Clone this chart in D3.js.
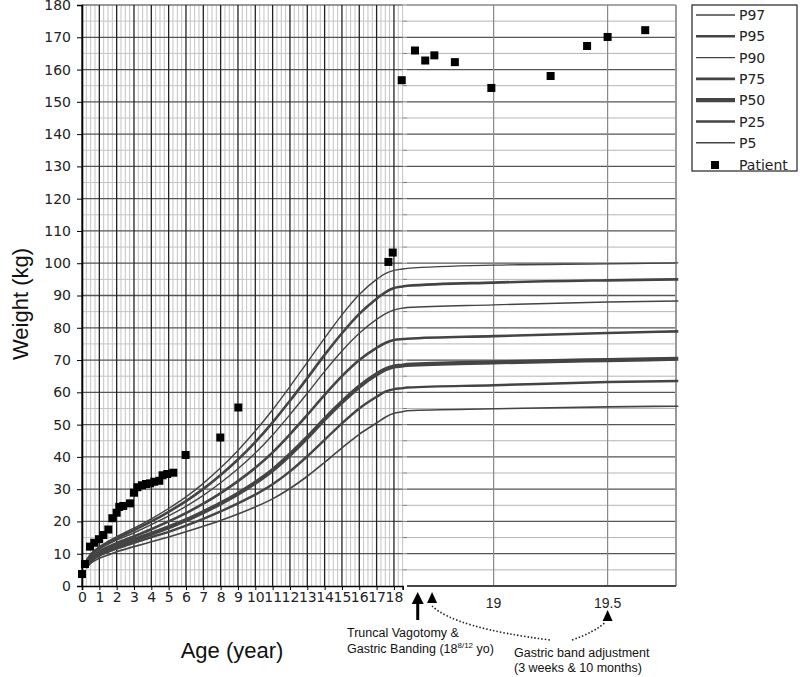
<!DOCTYPE html>
<html><head><meta charset="utf-8">
<script src="https://cdn.jsdelivr.net/npm/d3@7"></script>
<style>body{margin:0;background:#fff}svg{display:block}</style>
</head><body>
<svg id="c" width="800" height="677"></svg>
<script>
// ---- data ----
const curveAges = [0.25, 0.5, 1, 1.5, 2, 3, 4, 5, 6, 7, 8, 9, 10, 11, 12, 13, 14, 15, 16, 17, 17.5, 18, 18.5, 18.62, 19, 19.5, 19.81];
const P5  = [5.5, 7.0, 8.6, 9.6, 10.6, 12.2, 13.7, 15.2, 16.8, 18.5, 20.3, 22.3, 24.5, 27.0, 30.2, 34.0, 38.3, 42.8, 47.0, 50.5, 52.3, 53.5, 54.0, 54.3, 54.9, 55.5, 55.7];
const P25 = [6.0, 7.6, 9.4, 10.6, 11.6, 13.4, 15.1, 16.8, 18.7, 20.8, 23.1, 25.6, 28.3, 31.5, 35.5, 40.2, 45.3, 50.4, 55.0, 58.6, 60.2, 61.0, 61.3, 61.5, 62.2, 63.2, 63.5];
const P50 = [6.4, 8.0, 10.0, 11.3, 12.4, 14.3, 16.2, 18.2, 20.4, 22.9, 25.6, 28.6, 32.0, 35.9, 40.7, 46.0, 51.7, 57.0, 61.8, 65.6, 67.1, 68.0, 68.3, 68.5, 69.3, 70.0, 70.4];
const P75 = [6.9, 8.6, 10.7, 12.1, 13.3, 15.4, 17.6, 20.0, 22.6, 25.5, 28.8, 32.5, 36.6, 41.4, 47.0, 53.0, 59.2, 65.0, 70.0, 73.8, 75.3, 76.2, 76.5, 76.6, 77.4, 78.4, 78.9];
const P90 = [7.4, 9.2, 11.4, 12.9, 14.2, 16.5, 19.0, 21.7, 24.7, 28.1, 32.0, 36.3, 41.2, 46.8, 53.1, 59.7, 66.5, 72.8, 78.3, 82.6, 84.3, 85.5, 86.1, 86.3, 87.1, 88.0, 88.3];
const P95 = [7.7, 9.6, 11.8, 13.4, 14.8, 17.3, 20.0, 23.0, 26.3, 30.1, 34.4, 39.2, 44.6, 50.7, 57.4, 64.4, 71.6, 78.3, 84.3, 89.0, 91.0, 92.3, 92.8, 93.0, 94.0, 94.7, 95.0];
const P97 = [8.0, 9.9, 12.2, 13.8, 15.3, 17.9, 20.8, 24.0, 27.6, 31.8, 36.6, 42.0, 48.0, 54.6, 61.8, 69.3, 76.8, 84.0, 90.3, 95.0, 96.8, 97.8, 98.2, 98.4, 99.4, 99.8, 100.1];
const seriesNames = ["P97", "P95", "P90", "P75", "P50", "P25", "P5"];
const seriesValues = [P97, P95, P90, P75, P50, P25, P5];
const seriesWidths = [1.4, 2.6, 1.4, 2.6, 4.2, 2.4, 1.6];

const patientAge = [0, 0.17, 0.46, 0.71, 0.98, 1.23, 1.52, 1.75, 2.0, 2.15, 2.38, 2.77, 3.0, 3.2, 3.46, 3.69, 3.93, 4.17, 4.46, 4.65, 4.92, 5.27, 5.98, 7.98, 9.02, 17.68, 17.93, 18.45, 18.655, 18.70, 18.74, 18.83, 18.99, 19.25, 19.41, 19.50, 19.665];
const patientWeight = [3.7, 6.8, 12.2, 13.4, 14.5, 15.8, 17.5, 21.0, 22.7, 24.5, 24.8, 25.6, 28.9, 30.6, 31.2, 31.6, 31.8, 32.3, 32.6, 34.3, 34.7, 35.1, 40.6, 46.0, 55.3, 100.4, 103.3, 156.7, 165.9, 162.8, 164.4, 162.3, 154.3, 158.0, 167.3, 170.1, 172.2];

const yTicks = d3.range(0, 181, 10);
const xTicksLeft = d3.range(0, 19, 1);
const xTicksRight = [19, 19.5];
const xTickRightLabels = ["19", "19.5"];
const surgeryAge = 18.667;
const adjustAges = [18.73, 19.5];

// ---- scales ----
const svg = d3.select("#c");
const y = d3.scaleLinear().domain([0, 180]).range([586, 5]);
const xL = d3.scaleLinear().domain([0, 18.5]).range([82, 402.6]);
const xR = d3.scaleLinear().domain([18.62, 19.8]).range([407, 676]);
const xAll = d3.scaleLinear().domain([0, 18.5, 18.62, 19.8]).range([82, 402.6, 407, 676]);

// ---- left grid ----
const gL = svg.append("g");
const minorX = d3.range(0, 18.5001, 0.25).filter(d => Math.abs(d - Math.round(d)) > 1e-6);
gL.selectAll(".mnx").data(minorX).join("line")
  .attr("x1", d => xL(d)).attr("x2", d => xL(d)).attr("y1", y(0)).attr("y2", y(180))
  .attr("stroke", "#c4c4c4").attr("stroke-width", 1);
const minorY = d3.range(5, 180, 10);
gL.selectAll(".mny").data(minorY).join("line")
  .attr("x1", xL(0)).attr("x2", xL(18.5)).attr("y1", d => y(d)).attr("y2", d => y(d))
  .attr("stroke", "#c4c4c4").attr("stroke-width", 1);
gL.selectAll(".mjy").data(yTicks.filter(d => d > 0)).join("line")
  .attr("x1", xL(0)).attr("x2", xL(18.5)).attr("y1", d => y(d)).attr("y2", d => y(d))
  .attr("stroke", d => d === 180 ? "#777" : "#555").attr("stroke-width", 1.3);
gL.selectAll(".mjx").data(xTicksLeft).join("line")
  .attr("x1", d => xL(d)).attr("x2", d => xL(d)).attr("y1", y(0)).attr("y2", y(180))
  .attr("stroke", "#222").attr("stroke-width", 1.3);

// ---- right grid ----
const gR = svg.append("g");
gR.selectAll(".rmn").data(minorY).join("line")
  .attr("x1", xR(18.62)).attr("x2", xR(19.8)).attr("y1", d => y(d)).attr("y2", d => y(d))
  .attr("stroke", "#b5b5b5").attr("stroke-width", 1);
gR.selectAll(".rmj").data(yTicks).join("line")
  .attr("x1", xR(18.62)).attr("x2", xR(19.8)).attr("y1", d => y(d)).attr("y2", d => y(d))
  .attr("stroke", d => d === 180 ? "#888" : "#555").attr("stroke-width", 1.3);
gR.selectAll(".rvx").data(xTicksRight).join("line")
  .attr("x1", d => xR(d)).attr("x2", d => xR(d)).attr("y1", y(0)).attr("y2", y(180))
  .attr("stroke", "#888").attr("stroke-width", 1.2);
gR.append("line").attr("x1", xR(19.8)).attr("x2", xR(19.8)).attr("y1", y(0)).attr("y2", y(180))
  .attr("stroke", "#999").attr("stroke-width", 2);
gR.append("line").attr("x1", xR(18.62)).attr("x2", xR(19.8)).attr("y1", y(0)).attr("y2", y(0))
  .attr("stroke", "#333").attr("stroke-width", 1.5);
gR.selectAll(".rtk").data(d3.range(5, 181, 5)).join("line")
  .attr("x1", xL(18.5)).attr("x2", xR(18.62)).attr("y1", d => y(d)).attr("y2", d => y(d))
  .attr("stroke", "#777").attr("stroke-width", 1);

// ---- axes ----
const axY = svg.append("g").attr("transform", `translate(${xL(0)},0)`)
  .call(d3.axisLeft(y).tickValues(yTicks).tickSize(5).tickPadding(6));
axY.select(".domain").attr("stroke", "#000").attr("stroke-width", 1.6);
axY.selectAll("text").attr("font-family", "DejaVu Sans").attr("font-size", 14).attr("fill", "#222");
const axX = svg.append("g").attr("transform", `translate(0,${y(0)})`)
  .call(d3.axisBottom(xL).tickValues(xTicksLeft).tickSize(4).tickPadding(2));
axX.select(".domain").attr("stroke", "#000").attr("stroke-width", 1.6);
axX.selectAll("text").attr("font-family", "DejaVu Sans").attr("font-size", 14).attr("fill", "#222");
svg.append("g").selectAll("text").data(xTicksRight).join("text")
  .attr("x", d => xR(d)).attr("y", y(0) + 22).attr("text-anchor", "middle")
  .attr("font-family", "Liberation Sans, Arial").attr("font-size", 14).attr("fill", "#222")
  .text((d, i) => xTickRightLabels[i]);

// ---- percentile curves ----
const line = d3.line().x(d => xAll(d[0])).y(d => y(d[1])).curve(d3.curveMonotoneX);
svg.append("g").selectAll("path").data(seriesValues).join("path")
  .attr("d", vals => line(curveAges.map((a, i) => [a, vals[i]])))
  .attr("fill", "none").attr("stroke", "#444")
  .attr("stroke-width", (d, i) => seriesWidths[i]);

// ---- patient ----
svg.append("g").selectAll("rect").data(patientAge).join("rect")
  .attr("x", d => xAll(d) - 4).attr("y", (d, i) => y(patientWeight[i]) - 4)
  .attr("width", 8).attr("height", 8).attr("fill", "#000");

// ---- legend ----
const lg = svg.append("g");
lg.append("rect").attr("x", 692).attr("y", 5).attr("width", 105).attr("height", 166)
  .attr("fill", "#fff").attr("stroke", "#333").attr("stroke-width", 1.3);
seriesNames.forEach((n, i) => {
  const yy = 15 + i * 21.3;
  lg.append("line").attr("x1", 696).attr("x2", 735).attr("y1", yy).attr("y2", yy)
    .attr("stroke", "#444").attr("stroke-width", seriesWidths[i]);
  lg.append("text").attr("x", 739).attr("y", yy).attr("dy", "0.36em")
    .attr("font-family", "DejaVu Sans").attr("font-size", 14).attr("fill", "#222").text(n);
});
lg.append("rect").attr("x", 711).attr("y", 161).attr("width", 8).attr("height", 8).attr("fill", "#000");
lg.append("text").attr("x", 739).attr("y", 165).attr("dy", "0.36em")
  .attr("font-family", "DejaVu Sans").attr("font-size", 14).attr("fill", "#222").text("Patient");

// ---- axis titles ----
svg.append("text").attr("transform", "translate(20,304) rotate(-90)")
  .attr("text-anchor", "middle").attr("dy", "0.35em")
  .attr("font-family", "Liberation Sans, Arial").attr("font-size", 22).attr("fill", "#111").text("Weight (kg)");
svg.append("text").attr("x", 232).attr("y", 650).attr("text-anchor", "middle").attr("dy", "0.35em")
  .attr("font-family", "Liberation Sans, Arial").attr("font-size", 22).attr("fill", "#111").text("Age (year)");

// ---- annotations ----
const an = svg.append("g");
const sx = xR(surgeryAge);
an.append("line").attr("x1", sx).attr("x2", sx).attr("y1", 620).attr("y2", 602)
  .attr("stroke", "#000").attr("stroke-width", 3);
an.append("path").attr("d", `M${sx - 6},${604} L${sx},${592} L${sx + 6},${604} Z`).attr("fill", "#000");
const t1 = an.append("text").attr("font-family", "Liberation Sans, Arial").attr("font-size", 12.5).attr("fill", "#111");
t1.append("tspan").attr("x", 347).attr("y", 637).text("Truncal Vagotomy &");
const t2 = an.append("text").attr("font-family", "Liberation Sans, Arial").attr("font-size", 12.5).attr("fill", "#111")
  .attr("x", 347).attr("y", 653);
t2.append("tspan").text("Gastric Banding (18");
t2.append("tspan").attr("font-size", 8).attr("dy", -5).text("8/12");
t2.append("tspan").attr("dy", 5).text(" yo)");

adjustAges.forEach((a, i) => {
  const ax = xR(a);
  const ay = i === 0 ? 598 : 616;
  an.append("path").attr("d", `M${ax - 5},${ay + 5} L${ax},${ay - 6} L${ax + 5},${ay + 5} Z`).attr("fill", "#000");
});
an.append("path").attr("d", `M${xR(adjustAges[0])},${606} Q${455},${628} ${550},${640}`)
  .attr("fill", "none").attr("stroke", "#222").attr("stroke-width", 1.6).attr("stroke-dasharray", "1.5,2");
an.append("path").attr("d", `M${572},${640} Q${595},${632} ${xR(adjustAges[1]) - 2},${622}`)
  .attr("fill", "none").attr("stroke", "#222").attr("stroke-width", 1.6).attr("stroke-dasharray", "1.5,2");
an.append("text").attr("x", 514).attr("y", 657).attr("font-family", "Liberation Sans, Arial").attr("font-size", 12.5)
  .attr("fill", "#111").text("Gastric band adjustment");
an.append("text").attr("x", 514).attr("y", 672).attr("font-family", "Liberation Sans, Arial").attr("font-size", 12.5)
  .attr("fill", "#111").text("(3 weeks & 10 months)");
</script>
</body></html>
